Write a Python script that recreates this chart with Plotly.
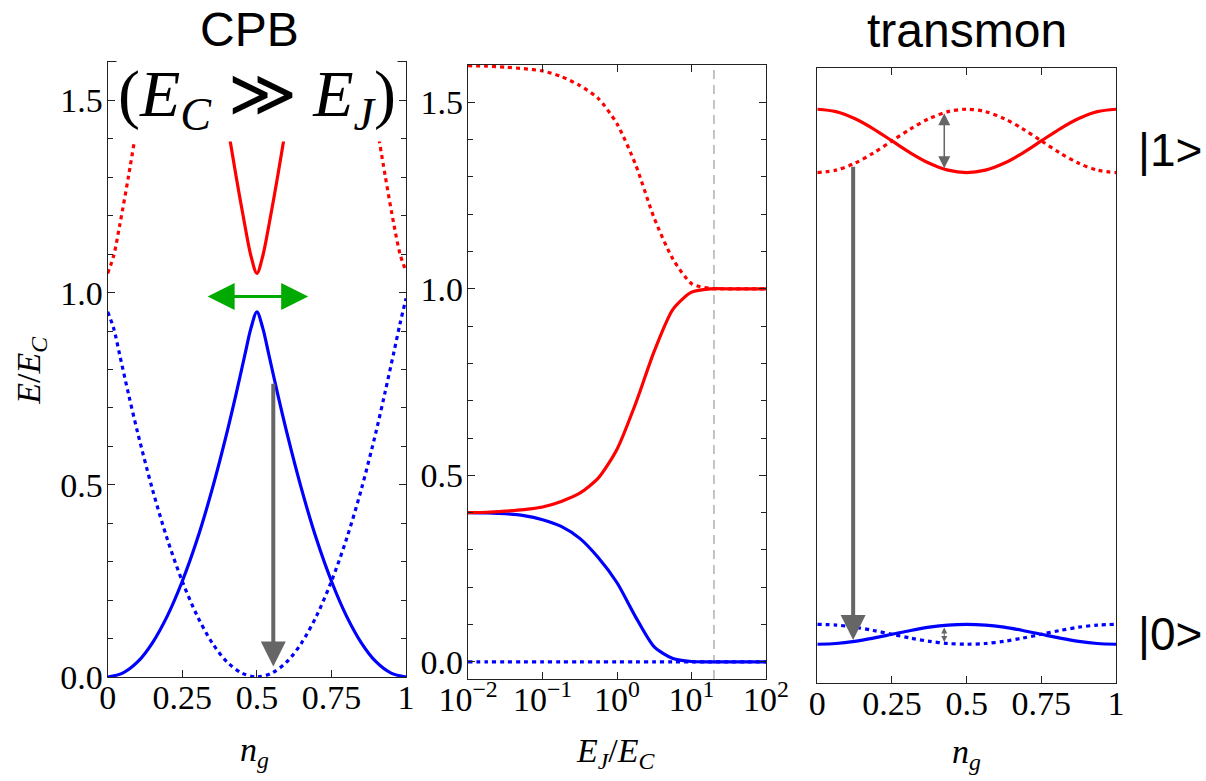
import plotly.graph_objects as go

# ---------------- Left panel: CPB (E_C >> E_J) ----------------
NG_LOW = [0, 0.05, 0.1, 0.15, 0.2, 0.25, 0.3, 0.35, 0.4, 0.43, 0.46, 0.48, 0.5,
          0.52, 0.54, 0.57, 0.6, 0.65, 0.7, 0.75, 0.8, 0.85, 0.9, 0.95, 1.0]
CPB_E0_SOLID = [0.0, 0.01, 0.039, 0.089, 0.159, 0.249, 0.358, 0.488, 0.637, 0.735, 0.839, 0.907, 0.95,
                0.907, 0.839, 0.735, 0.637, 0.488, 0.358, 0.249, 0.159, 0.089, 0.039, 0.01, 0.0]
NG_SHIFT = [0, 0.02, 0.04, 0.07, 0.1, 0.15, 0.2, 0.25, 0.3, 0.35, 0.4, 0.45, 0.5,
            0.55, 0.6, 0.65, 0.7, 0.75, 0.8, 0.85, 0.9, 0.93, 0.96, 0.98, 1.0]
CPB_E0_DOT = [0.95, 0.907, 0.839, 0.735, 0.637, 0.488, 0.358, 0.249, 0.159, 0.089, 0.039, 0.01, 0.0,
              0.01, 0.039, 0.089, 0.159, 0.249, 0.358, 0.488, 0.640, 0.742, 0.848, 0.920, 0.985]
NG_UP = [0.405, 0.43, 0.46, 0.48, 0.5, 0.52, 0.54, 0.57, 0.595]
CPB_E1_SOLID = [1.42, 1.304, 1.174, 1.096, 1.05, 1.096, 1.174, 1.304, 1.42]
NG_UP_DOT = [0, 0.02, 0.04, 0.07, 0.095, None, 0.905, 0.93, 0.96, 0.98, 1.0]
CPB_E1_DOT = [1.05, 1.096, 1.174, 1.304, 1.42, None, 1.42, 1.304, 1.174, 1.100, 1.055]

# ---------------- Middle panel: E vs E_J/E_C (quarter-decade samples) ----------------
EJ_EC = [0.01, 0.0178, 0.0316, 0.0562, 0.1, 0.178, 0.316, 0.562, 1.0,
         1.78, 3.16, 5.62, 10, 17.8, 31.6, 56.2, 100]
E_RED_DOT = [1.598, 1.597, 1.594, 1.590, 1.584, 1.569, 1.545, 1.510, 1.442,
             1.332, 1.189, 1.080, 1.014, 1.001, 1.0, 1.0, 1.0]
E_RED = [0.400, 0.401, 0.404, 0.408, 0.415, 0.430, 0.452, 0.493, 0.570,
         0.693, 0.833, 0.945, 0.991, 1.0, 1.0, 1.0, 1.0]
E_BLUE = [0.400, 0.399, 0.397, 0.392, 0.381, 0.363, 0.331, 0.279, 0.212,
          0.120, 0.040, 0.009, 0.001, 0.0, 0.0, 0.0, 0.0]
E_BLUE_DOT = [0.0, 0.0, 0.0, 0.0, 0.0, 0.0, 0.0, 0.0, 0.0,
              0.0, 0.0, 0.0, 0.0, 0.0, 0.0, 0.0, 0.0]
TRANSMON_RATIO = 20
DASH_Y = [-0.046, 1.6]

# ---------------- Right panel: transmon ----------------
NG_TR = [0, 0.0625, 0.125, 0.1875, 0.25, 0.3125, 0.375, 0.4375, 0.5,
         0.5625, 0.625, 0.6875, 0.75, 0.8125, 0.875, 0.9375, 1.0]
TR_E1_SOLID = [0.933, 0.9291, 0.9179, 0.9012, 0.8815, 0.8618, 0.8451, 0.8339, 0.830,
               0.8339, 0.8451, 0.8618, 0.8815, 0.9012, 0.9179, 0.9291, 0.933]
TR_E1_DOT = [0.830, 0.8339, 0.8451, 0.8618, 0.8815, 0.9012, 0.9179, 0.9291, 0.933,
             0.9291, 0.9179, 0.9012, 0.8815, 0.8618, 0.8451, 0.8339, 0.830]
TR_E0_SOLID = [0.063, 0.0642, 0.0677, 0.0730, 0.0792, 0.0854, 0.0907, 0.0942, 0.0954,
               0.0942, 0.0907, 0.0854, 0.0792, 0.0730, 0.0677, 0.0642, 0.063]
TR_E0_DOT = [0.0954, 0.0942, 0.0907, 0.0854, 0.0792, 0.0730, 0.0677, 0.0642, 0.063,
             0.0642, 0.0677, 0.0730, 0.0792, 0.0854, 0.0907, 0.0942, 0.0954]

NG_TICKS = [0, 0.25, 0.5, 0.75, 1]
NG_TICKTEXT = ["0", "0.25", "0.5", "0.75", "1"]
E_TICKS = [0, 0.5, 1.0, 1.5]
E_TICKTEXT = ["0.0", "0.5", "1.0", "1.5"]
EJ_TICKS = [0.01, 0.1, 1, 10, 100]
EJ_TICKTEXT = ["10<sup>\u22122</sup>", "10<sup>\u22121</sup>", "10<sup>0</sup>", "10<sup>1</sup>", "10<sup>2</sup>"]

BLUE = "#0000FF"
RED = "#FF0000"
GREEN = "#00AA00"
GRAY = "#666666"
LW = 3.2
DOT = "4px,4px"
SERIF = "Liberation Serif"
SANS = "Liberation Sans"

fig = go.Figure()


def line(x, y, color, dash, xa, ya, width=LW, smoothing=0.9):
    fig.add_trace(go.Scatter(x=x, y=y, mode="lines", xaxis=xa, yaxis=ya,
                             line=dict(color=color, width=width, dash=dash, shape="spline", smoothing=smoothing),
                             connectgaps=False, showlegend=False, hoverinfo="skip"))


# left
line(NG_SHIFT, CPB_E0_DOT, BLUE, DOT, "x", "y")
line(NG_LOW, CPB_E0_SOLID, BLUE, "solid", "x", "y")
line(NG_UP_DOT, CPB_E1_DOT, RED, DOT, "x", "y")
line(NG_UP, CPB_E1_SOLID, RED, "solid", "x", "y")
# middle
fig.add_trace(go.Scatter(x=[TRANSMON_RATIO, TRANSMON_RATIO], y=DASH_Y, mode="lines", xaxis="x2", yaxis="y2",
                         line=dict(color="#888888", width=1, dash="9px,6px"), showlegend=False, hoverinfo="skip"))
line(EJ_EC, E_BLUE_DOT, BLUE, DOT, "x2", "y2")
line(EJ_EC, E_BLUE, BLUE, "solid", "x2", "y2", smoothing=0.7)
line(EJ_EC, E_RED_DOT, RED, DOT, "x2", "y2", smoothing=0.7)
line(EJ_EC, E_RED, RED, "solid", "x2", "y2", smoothing=0.7)
# right
line(NG_TR, TR_E1_DOT, RED, DOT, "x3", "y3")
line(NG_TR, TR_E1_SOLID, RED, "solid", "x3", "y3")
line(NG_TR, TR_E0_DOT, BLUE, DOT, "x3", "y3")
line(NG_TR, TR_E0_SOLID, BLUE, "solid", "x3", "y3")

axis_common = dict(showline=True, linecolor="#222222", linewidth=1.3, mirror="ticks", ticks="inside",
                   ticklen=7, tickcolor="#222222", tickwidth=1, showgrid=False, zeroline=False,
                   automargin=False, tickfont=dict(family=SERIF, size=34, color="black"))

ng_axis = dict(axis_common, range=[0, 1], tickvals=NG_TICKS, ticktext=NG_TICKTEXT, ticklabelstandoff=-10)
e_axis = dict(axis_common, tickvals=E_TICKS, ticktext=E_TICKTEXT, ticklabelstandoff=-3,
              minor=dict(dtick=0.1, ticks="inside", ticklen=5, tickcolor="#222222", showgrid=False))

fig.update_layout(
    width=1206, height=781, margin=dict(l=0, r=0, t=0, b=0, autoexpand=False),
    paper_bgcolor="white", plot_bgcolor="white", showlegend=False,
    xaxis=dict(ng_axis, domain=[0.0893, 0.3367], anchor="y"),
    yaxis=dict(e_axis, domain=[0.1332, 0.9206], range=[0, 1.6], anchor="x"),
    xaxis2=dict(axis_common, type="log", range=[-2, 2], tickvals=EJ_TICKS, ticktext=EJ_TICKTEXT,
                ticklabelstandoff=-10, domain=[0.3881, 0.6352], anchor="y2"),
    yaxis2=dict(e_axis, domain=[0.1306, 0.9168], range=[-0.046, 1.6], anchor="x2"),
    xaxis3=dict(ng_axis, domain=[0.6777, 0.9254], anchor="y3"),
    yaxis3=dict(showline=True, linecolor="#222222", linewidth=1.3, mirror=True, ticks="",
                showticklabels=False, showgrid=False, zeroline=False, range=[0, 1], automargin=False,
                domain=[0.1255, 0.9129], anchor="x3"),
)

ann = []
# titles and labels
ann.append(dict(text="CPB", x=0.2065, y=0.962, xref="paper", yref="paper", showarrow=False,
                font=dict(family=SANS, size=48, color="black"), xanchor="center", yanchor="middle"))
ann.append(dict(text="transmon", x=0.8018, y=0.9605, xref="paper", yref="paper", showarrow=False,
                font=dict(family=SANS, size=48, color="black"), xanchor="center", yanchor="middle"))
ann.append(dict(text="|1>", x=0.942, y=0.808, xref="paper", yref="paper", showarrow=False,
                font=dict(family=SANS, size=46, color="black"), xanchor="left", yanchor="middle"))
ann.append(dict(text="|0>", x=0.942, y=0.1882, xref="paper", yref="paper", showarrow=False,
                font=dict(family=SANS, size=46, color="black"), xanchor="left", yanchor="middle"))
ann.append(dict(text="<i>E</i>/<i>E</i><sub><i>C</i></sub>", x=0.0255, y=0.5263, xref="paper", yref="paper",
                showarrow=False, textangle=-90, font=dict(family=SERIF, size=34, color="black"),
                xanchor="center", yanchor="middle"))
ann.append(dict(text="<i>n</i><sub><i>g</i></sub>", x=0.2114, y=0.0371, xref="paper", yref="paper",
                showarrow=False, font=dict(family=SERIF, size=34, color="black"), xanchor="center", yanchor="middle"))
ann.append(dict(text="<i>E</i><sub><i>J</i></sub>/<i>E</i><sub><i>C</i></sub>", x=0.5108, y=0.0359,
                xref="paper", yref="paper", showarrow=False, font=dict(family=SERIF, size=34, color="black"),
                xanchor="center", yanchor="middle"))
ann.append(dict(text="<i>n</i><sub><i>g</i></sub>", x=0.801, y=0.034, xref="paper", yref="paper",
                showarrow=False, font=dict(family=SERIF, size=34, color="black"), xanchor="center", yanchor="middle"))
# regime label box
ann.append(dict(text="(<i>E</i><sub><i>C</i></sub> \u226B <i>E</i><sub><i>J</i></sub>)", x=0.5, y=1.504,
                xref="x", yref="y", showarrow=False, bgcolor="white",
                font=dict(family=SERIF, size=66, color="black"), xanchor="center", yanchor="middle"))

# arrows (tip at x,y ; tail at ax,ay)
ann.append(dict(x=0.672, y=0.99, ax=0.33, ay=0.99, xref="x", yref="y", axref="x", ayref="y", text="",
                showarrow=True, arrowhead=2, startarrowhead=2, arrowside="end+start", arrowsize=1.8,
                startarrowsize=1.8, arrowwidth=3, arrowcolor=GREEN))
ann.append(dict(x=0.555, y=0.027, ax=0.555, ay=0.767, xref="x", yref="y", axref="x", ayref="y", text="",
                showarrow=True, arrowhead=2, arrowsize=1.25, arrowwidth=4, arrowcolor=GRAY))
ann.append(dict(x=0.12, y=0.0699, ax=0.12, ay=0.842, xref="x3", yref="y3", axref="x3", ayref="y3", text="",
                showarrow=True, arrowhead=2, arrowsize=1.25, arrowwidth=4, arrowcolor=GRAY))
ann.append(dict(x=0.425, y=0.837, ax=0.425, ay=0.929, xref="x3", yref="y3", axref="x3", ayref="y3", text="",
                showarrow=True, arrowhead=2, startarrowhead=2, arrowside="end+start", arrowsize=1.6,
                startarrowsize=1.6, arrowwidth=1.5, arrowcolor=GRAY))
ann.append(dict(x=0.425, y=0.0667, ax=0.425, ay=0.0927, xref="x3", yref="y3", axref="x3", ayref="y3", text="",
                showarrow=True, arrowhead=2, startarrowhead=2, arrowside="end+start", arrowsize=1.2,
                startarrowsize=1.2, arrowwidth=1, arrowcolor=GRAY))

fig.update_layout(annotations=ann)
fig.write_html("out.html", config={"displayModeBar": False},
               post_script="document.body.style.margin='0';document.body.style.overflow='hidden';")
